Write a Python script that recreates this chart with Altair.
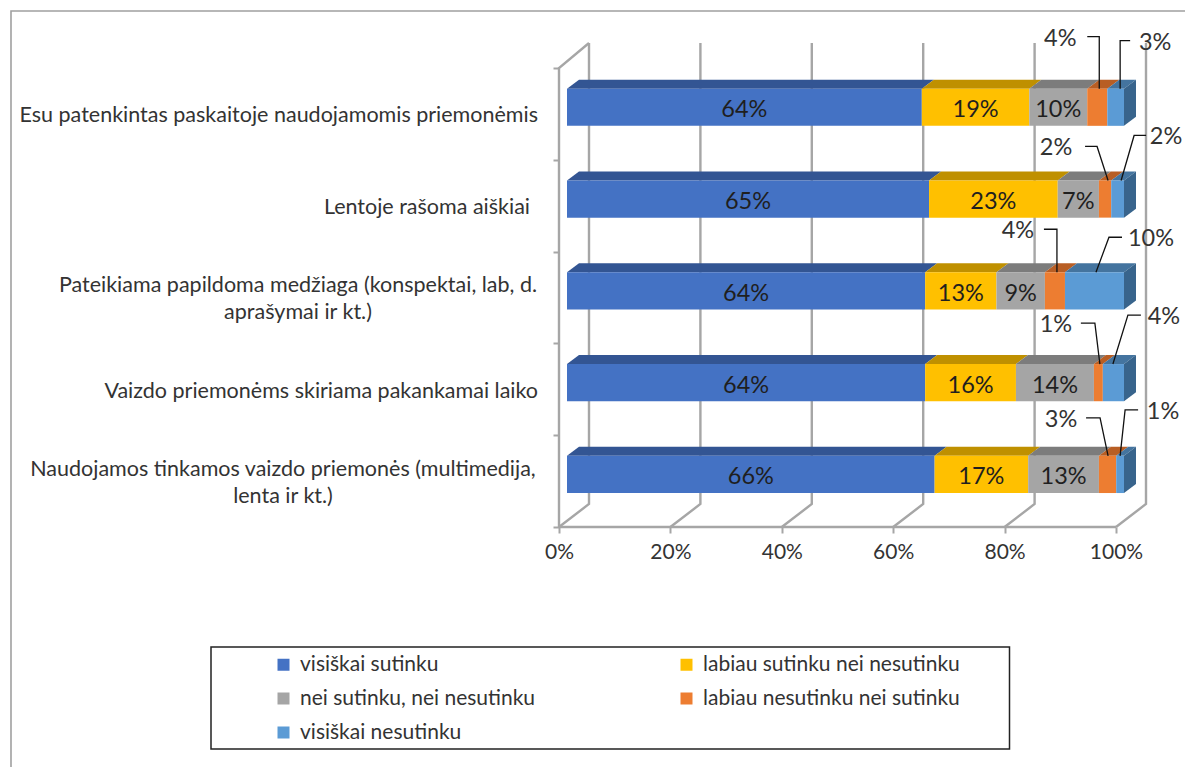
import altair as alt
import pandas as pd

# ---------- values ----------
QUESTIONS_TOP_DOWN = [
    "Esu patenkintas paskaitoje naudojamomis priemonėmis",
    "Lentoje rašoma aiškiai",
    "Pateikiama papildoma medžiaga (konspektai, lab, d.|aprašymai ir kt.)",
    "Vaizdo priemonėms skiriama pakankamai laiko",
    "Naudojamos tinkamos  vaizdo priemonės (multimedija,|lenta ir kt.)",
]
SERIES = [
    "visiškai sutinku",
    "labiau sutinku nei nesutinku",
    "nei sutinku, nei nesutinku",
    "labiau nesutinku nei sutinku",
    "visiškai nesutinku",
]
S1 = [63.7, 65.0, 64.3, 64.3, 66.0]
S2 = [19.3, 23.1, 12.8, 16.3, 16.8]
S3 = [10.4, 7.4, 8.7, 14.0, 12.7]
S4 = [3.6, 2.2, 3.6, 1.6, 3.1]
S5 = [3.0, 2.3, 10.6, 3.8, 1.4]
L1 = [64, 65, 64, 64, 66]
L2 = [19, 23, 13, 16, 17]
L3 = [10, 7, 9, 14, 13]
L4 = [4, 2, 4, 1, 3]
L5 = [3, 2, 10, 4, 1]
TICKS = [0, 20, 40, 60, 80, 100]

FRONT = ["#4472C4", "#FFC000", "#A5A5A5", "#ED7D31", "#5B9BD5"]
TOP = ["#335593", "#BF9000", "#7C7C7C", "#B85E24", "#44749F"]
SIDE = "#38648C"

# ---------- layout ----------
FONT = "Lato"
TXT = "#333333"
GRID = "#A6A6A6"
W, H = 1177, 759
PX_X, PX_Y = 5.57, 91.8
def px_x(X): return (X - 559) / PX_X
def px_y(Y): return (527 - Y) / PX_Y
xs = alt.Scale(domain=[px_x(8), px_x(8 + W)], range=[0, W], nice=False, zero=False)
ys = alt.Scale(domain=[px_y(8 + H), px_y(8)], range=[H, 0], nice=False, zero=False)
x_axis = alt.Axis(values=TICKS, grid=False, domain=False, ticks=True, tickSize=6, tickColor=GRID,
                  tickWidth=2, labelExpr="datum.value + '%'", labelFont=FONT, labelFontSize=21,
                  labelColor=TXT, labelPadding=8, offset=-(8 + H - 527), labelFlush=False)
y_axis = alt.Axis(values=[0, 1, 2, 3, 4, 5], grid=False, domain=False, ticks=True, tickSize=6,
                  tickColor=GRID, tickWidth=2, labels=False, offset=-(559 - 8))
def X(f="x", **k): return alt.X(f, type="quantitative", scale=xs, axis=x_axis, title=None, **k)
def Y(f="y", **k): return alt.Y(f, type="quantitative", scale=ys, axis=y_axis, title=None, **k)
WALL_DX, WALL_DY, WALL_TOP = 30 / PX_X, 23 / PX_Y, px_y(43)
BAR_X0, BAR_LOW, BAR_HIGH = 8 / PX_X, 0.37, 0.775
D_X, D_Y = 12 / PX_X, 9 / PX_Y

# ---------- grid polylines ----------
grid = []
for t in TICKS:
    pts = [(t, 0), (t + WALL_DX, WALL_DY), (t + WALL_DX, WALL_TOP)]
    for i, (a, b) in enumerate(pts):
        grid.append(dict(k=f"g{t}", o=i, x=a, y=b))
for i, (a, b) in enumerate([(0, 0), (0, 5), (WALL_DX, WALL_TOP)]):
    grid.append(dict(k="left", o=i, x=a, y=b))
for i, (a, b) in enumerate([(0, 0), (100, 0)]):
    grid.append(dict(k="floor", o=i, x=a, y=b))
grid = pd.DataFrame(grid)

frame = pd.DataFrame([
    dict(o=0, x=px_x(11), y=px_y(8 + H)),
    dict(o=1, x=px_x(11), y=px_y(11)),
    dict(o=2, x=px_x(8 + W), y=px_y(11)),
])
box = pd.DataFrame([dict(x=px_x(211), x2=px_x(1009.5), y=px_y(647), y2=px_y(749))])

# ---------- bars ----------
VALS = [S1, S2, S3, S4, S5]
LABS = [L1, L2, L3, L4, L5]
front, tops, sides, inbar, outbar, leaders = [], [], [], [], [], []
# start offset, elbow offset, end offset (px from segment centre), elbow height above bar, label offset
LEADER = [
    [(2, 2, -10, 52, -37), (4.5, 4.5, 14.5, 48, 39.5)],
    [(3, -8, -20, 34, -49), (3.5, 16.5, 28.5, 45, 48.5)],
    [(2, 2, -11, 43, -37), (1.5, 14.5, 27.5, 35, 56.5)],
    [(1.5, -3.5, -17.5, 41, -42.5), (-0.5, 14.5, 27.5, 49, 50.5)],
    [(0.5, -7.5, -21.5, 38, -46.5), (0, 5, 18, 46, 43)],
]
for r in range(5):
    k = 4 - r
    low, high = k + BAR_LOW, k + BAR_HIGH
    c = BAR_X0
    for s in range(5):
        v = VALS[s][r]
        a, b = c, c + v
        c = b
        front.append(dict(x=a, x2=b, y=low, y2=high, series=SERIES[s]))
        key = f"{r}-{s}"
        tops.append(dict(k=key, fill=TOP[s], x=a, x2=b, y=high))
        tops.append(dict(k=key, fill=TOP[s], x=a + D_X, x2=b + D_X, y=high + D_Y))
        mid = (a + b) / 2
        txt = f"{LABS[s][r]}%"
        if s < 3:
            inbar.append(dict(x=mid, y=(low + high) / 2 - 3 / PX_Y, t=txt))
        else:
            d0, d1, d2, h, dl = LEADER[r][s - 3]
            lk = f"l{key}"
            hd = h / PX_Y
            leaders.append(dict(k=lk, o=0, x=mid + d0 / PX_X, y=high))
            leaders.append(dict(k=lk, o=1, x=mid + d1 / PX_X, y=high + hd))
            leaders.append(dict(k=lk, o=2, x=mid + d2 / PX_X, y=high + hd))
            outbar.append(dict(x=mid + dl / PX_X, y=high + hd - 2 / PX_Y, t=txt))
    sides.append(dict(k=r, x=c, y=low, y2=high))
    sides.append(dict(k=r, x=c + D_X, y=low + D_Y, y2=high + D_Y))
front, tops, sides = pd.DataFrame(front), pd.DataFrame(tops), pd.DataFrame(sides)
inbar, outbar, leaders = pd.DataFrame(inbar), pd.DataFrame(outbar), pd.DataFrame(leaders)

# ---------- category labels ----------
right_lines, centre_lines = [], []
RIGHT_END = {0: 538, 1: 530, 3: 538}
BLOCK_CENTRE = {2: 298, 4: 283}
LABEL_DROP = 9 / PX_Y
for r, q in enumerate(QUESTIONS_TOP_DOWN):
    k = 4 - r
    cy = k + (BAR_LOW + BAR_HIGH) / 2 - LABEL_DROP
    parts = q.split("|")
    if len(parts) == 1:
        right_lines.append(dict(x=px_x(RIGHT_END[r]), y=cy, t=q))
    else:
        for i, p in enumerate(parts):
            centre_lines.append(dict(x=px_x(BLOCK_CENTRE[r]), y=cy + (0.5 - i) * 27 / PX_Y, t=p))
right_lines, centre_lines = pd.DataFrame(right_lines), pd.DataFrame(centre_lines)

# ---------- layers ----------
grid_l = alt.Chart(grid).mark_line(color=GRID, strokeWidth=2.4, clip=False).encode(
    x=X(), y=Y(), detail="k:N", order="o:Q")
frame_l = alt.Chart(frame).mark_line(color="#A0A0A0", strokeWidth=1.6).encode(x=X(), y=Y(), order="o:Q")
box_l = alt.Chart(box).mark_rect(fill="white", stroke="#222222", strokeWidth=1.5).encode(
    x=X(), x2="x2:Q", y=Y(), y2="y2:Q")
front_l = alt.Chart(front).mark_rect().encode(
    x=X(), x2="x2:Q", y=Y(), y2="y2:Q",
    color=alt.Color("series:N", scale=alt.Scale(domain=SERIES, range=FRONT), sort=SERIES,
        legend=alt.Legend(orient="none", legendX=265, legendY=646, columns=2, direction="horizontal", title=None,
                          symbolType="square", symbolSize=144, symbolStrokeWidth=0, symbolOpacity=1,
                          labelFont=FONT, labelFontSize=21, labelColor=TXT, labelLimit=400,
                          labelOffset=6, columnPadding=140, rowPadding=12, padding=0)),
)
top_l = alt.Chart(tops).mark_area(orient="horizontal").encode(
    x=X(stack=None), x2="x2:Q", y=Y(), detail="k:N", fill=alt.Fill("fill:N", scale=None))
side_l = alt.Chart(sides).mark_area(orient="vertical", color=SIDE).encode(
    x=X(), y=Y(stack=None), y2="y2:Q", detail="k:N")
inbar_l = alt.Chart(inbar).mark_text(font=FONT, fontSize=23.5, color="#1F1F1F").encode(x=X(), y=Y(), text="t:N")
outbar_l = alt.Chart(outbar).mark_text(font=FONT, fontSize=23.5, color="#333333").encode(x=X(), y=Y(), text="t:N")
leader_l = alt.Chart(leaders).mark_line(color="#111111", strokeWidth=1.3).encode(
    x=X(), y=Y(), detail="k:N", order="o:Q")
right_l = alt.Chart(right_lines).mark_text(font=FONT, fontSize=21.5, color=TXT, align="right").encode(
    x=X(), y=Y(), text="t:N")
centre_l = alt.Chart(centre_lines).mark_text(font=FONT, fontSize=21.5, color=TXT, align="center").encode(
    x=X(), y=Y(), text="t:N")

chart = alt.layer(
    grid_l, frame_l, box_l, top_l, side_l, front_l, inbar_l, leader_l, outbar_l, right_l, centre_l
).properties(width=W, height=H, padding=0, autosize=alt.AutoSizeParams(type="none"), background="white"
).configure_view(stroke=None)

chart.save("out.html", embed_options={"renderer": "svg", "actions": False})
